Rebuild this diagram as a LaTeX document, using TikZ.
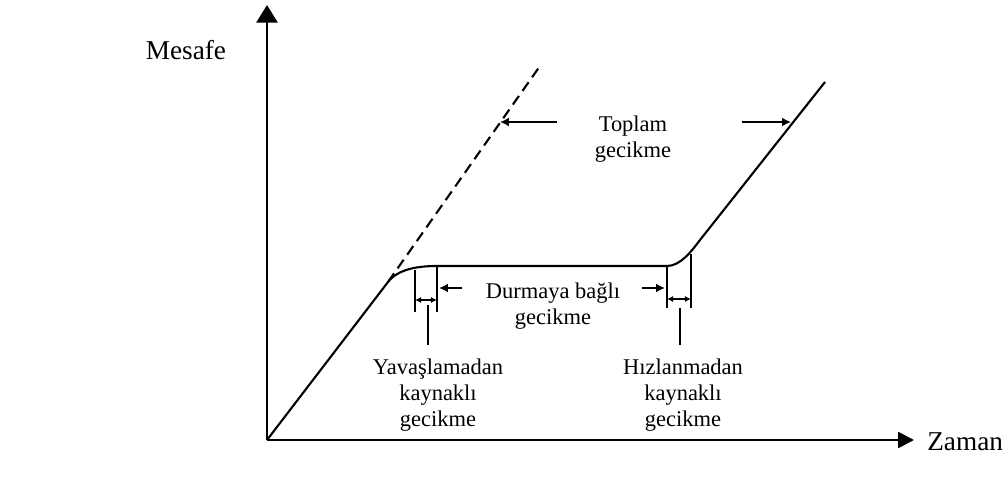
\documentclass[tikz,border=0pt]{standalone}
\usepackage{fontspec}
\setmainfont{Liberation Serif}
\usetikzlibrary{arrows.meta}
\begin{document}
\begin{tikzpicture}[x=0.02cm,y=-0.02cm,
  axis/.style={line width=1.4pt},
  curve/.style={line width=1.2pt},
  dim/.style={line width=0.9pt},
  smallarrow/.style={line width=1pt,-{Latex[length=5pt,width=5pt]}},
  dimarrow/.style={line width=0.9pt,{Latex[length=3.5pt,width=3.5pt]}-{Latex[length=3.5pt,width=3.5pt]}},
  lbl/.style={font=\fontsize{12.8}{14.6}\selectfont, align=center, inner sep=0pt},
  axlbl/.style={font=\fontsize{15.5}{17}\selectfont, inner sep=0pt}]
\useasboundingbox (0,0) rectangle (1008,500);
% coordinates
\coordinate (O) at (267,440);
\coordinate (ytip) at (267,5);
\coordinate (xtip) at (914,440);
\coordinate (A) at (388,282);
\coordinate (B) at (437,266);
\coordinate (C) at (667,266);
\coordinate (D) at (700,240);
\coordinate (E) at (825,82);
\coordinate (F) at (540,66);
% axes
\draw[axis,-{Triangle[length=10pt,width=12pt]}] (O) -- (ytip);
\draw[axis,-{Triangle[length=9pt,width=9pt]}] (O) -- (xtip);
\node[axlbl] (mesafe) at (186,50) {Mesafe};
\node[axlbl,anchor=west] (zaman) at (927,442) {Zaman};
% curve
\draw[curve] (O) -- (A) .. controls (398,269) and (418,266) .. (B) -- (C)
  .. controls (680,266) and (691,252) .. (D) -- (E);
\draw[curve,dash pattern=on 6pt off 3.5pt] (A) -- (F);
% slowdown dimension
\coordinate (s1t) at (415,270);
\coordinate (s1b) at (415,312);
\coordinate (s2t) at (437,266);
\coordinate (s2b) at (437,312);
\draw[dim] (s1t) -- (s1b);
\draw[dim] (s2t) -- (s2b);
\coordinate (s1m) at (415,300);
\coordinate (s2m) at (437,300);
\draw[dimarrow] (s1m) -- (s2m);
% acceleration dimension
\coordinate (h1t) at (667,266);
\coordinate (h1b) at (667,308);
\coordinate (h2t) at (691,254);
\coordinate (h2b) at (691,308);
\draw[dim] (h1t) -- (h1b);
\draw[dim] (h2t) -- (h2b);
\coordinate (h1m) at (667,299);
\coordinate (h2m) at (691,299);
\draw[dimarrow] (h1m) -- (h2m);
% stop delay arrows
\coordinate (dL0) at (462,288);
\coordinate (dL1) at (439,288);
\coordinate (dR0) at (642,288);
\coordinate (dR1) at (665,288);
\draw[smallarrow] (dL0) -- (dL1);
\draw[smallarrow] (dR0) -- (dR1);
\node[lbl] (durma) at (553,306) {Durmaya bağlı\\gecikme};
% pointer lines
\coordinate (p1a) at (428,305);
\coordinate (p1b) at (428,345);
\coordinate (p2a) at (680,308);
\coordinate (p2b) at (680,345);
\draw[line width=0.7pt] (p1a) -- (p1b);
\draw[line width=0.7pt] (p2a) -- (p2b);
\node[lbl,anchor=north] (yav) at (438,359) {Yavaşlamadan\\kaynaklı\\gecikme};
\node[lbl,anchor=north] (hiz) at (683,359) {Hızlanmadan\\kaynaklı\\gecikme};
% total delay
\node[lbl] (toplam) at (633,139) {Toplam\\gecikme};
\coordinate (tL0) at (557,122);
\coordinate (tL1) at (500,122);
\coordinate (tR0) at (742,122);
\coordinate (tR1) at (791,122);
\draw[smallarrow] (tL0) -- (tL1);
\draw[smallarrow] (tR0) -- (tR1);
\end{tikzpicture}
\end{document}
